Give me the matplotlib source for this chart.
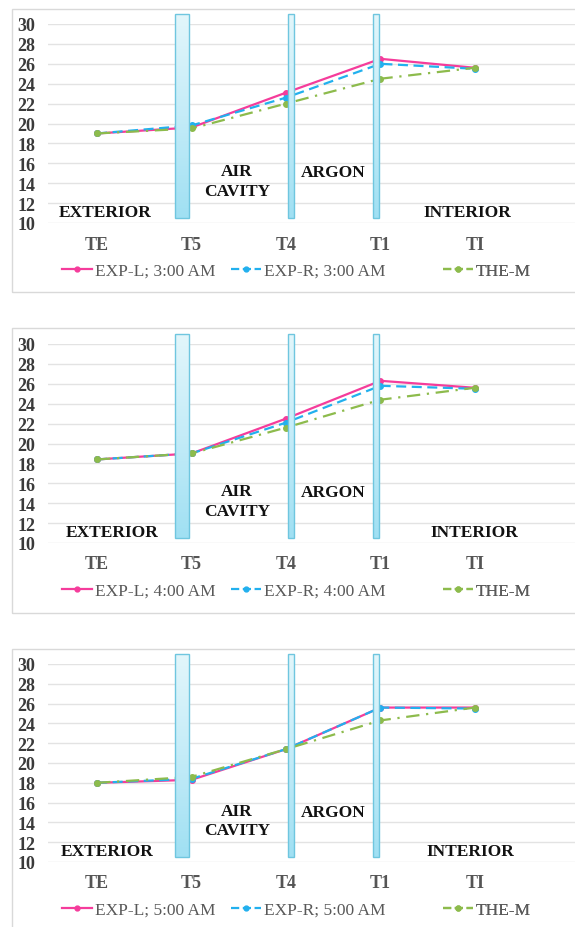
import numpy as np
import matplotlib
matplotlib.use('Agg')
import matplotlib.pyplot as plt
from matplotlib.patches import Rectangle
from matplotlib.colors import LinearSegmentedColormap
from matplotlib.lines import Line2D

plt.rcParams['font.family'] = ['Liberation Serif', 'DejaVu Serif']

# data
categories = ['TE', 'T5', 'T4', 'T1', 'TI']
times = ['3:00 AM', '4:00 AM', '5:00 AM']
exp_l = [[19.0, 19.6, 23.1, 26.5, 25.6],
         [18.4, 19.0, 22.5, 26.3, 25.6],
         [18.0, 18.3, 21.4, 25.6, 25.6]]
exp_r = [[19.0, 19.8, 22.6, 26.0, 25.5],
         [18.4, 19.0, 22.1, 25.8, 25.5],
         [18.0, 18.4, 21.4, 25.6, 25.5]]
the_m = [[19.0, 19.5, 22.0, 24.5, 25.6],
         [18.4, 19.0, 21.6, 24.4, 25.6],
         [18.0, 18.6, 21.4, 24.3, 25.6]]
yticks = np.arange(10, 31, 2)

W, H = 575, 928
fig = plt.figure(figsize=(W/100, H/100), dpi=100)

pink = '#f53c9b'
blue = '#22b0ee'
green = '#8dbb4c'
cmap = LinearSegmentedColormap.from_list('glass', ['#a0e0f3', '#c4ecf8', '#e2f6fb'])
grad = np.linspace(0, 1, 100).reshape(-1, 1)

# pixel layout per panel: (box top, box bottom, y of value 30, y of value 10)
panels = [(10, 293, 25, 224), (329, 614, 345, 544), (650, 940, 665, 863)]
ax_left = 48
xlo, xhi = -0.52, 5.06
ext_x = [0.08, 0.16, 0.11]
int_x = [3.92, 4.0, 3.95]

for i, (btop, bbot, ytop, ybot) in enumerate(panels):
    fig.patches.append(Rectangle((12/W, 1 - bbot/H), 1, (bbot - btop)/H,
                                 transform=fig.transFigure, fill=False,
                                 edgecolor='#d9d9d9', lw=1))
    ax = fig.add_axes([ax_left/W, 1 - ybot/H, (W - ax_left)/W, (ybot - ytop)/H])
    x = np.arange(len(categories))
    l1, = ax.plot(x, exp_l[i], color=pink, lw=1.6, marker='o', ms=4, zorder=3)
    l2, = ax.plot(x, exp_r[i], color=blue, lw=1.6, ls=(0, (4.5, 2.5)), marker='o', ms=4, zorder=3)
    l3, = ax.plot(x, the_m[i], color=green, lw=1.6, ls=(0, (6, 3, 1, 3)), marker='o', ms=4, zorder=3)

    # glass panes
    for (p0, p1) in [(0.82, 0.97), (2.02, 2.085), (2.926, 2.98)]:
        ax.imshow(grad, extent=(p0, p1, 10.5, 31.0), origin='lower', cmap=cmap,
                  aspect='auto', zorder=5, clip_on=False, interpolation='bilinear')
        ax.add_patch(Rectangle((p0, 10.5), p1 - p0, 20.5, fill=False,
                               edgecolor='#6fc6df', lw=1, zorder=6, clip_on=False))

    ax.set_xlim(xlo, xhi)
    ax.set_ylim(10, 30)
    ax.set_aspect('auto')
    ax.set_yticks(yticks)
    ax.set_yticklabels([str(v) for v in yticks], fontsize=13, fontweight='bold', color='#3a3a3a')
    ax.set_xticks(x)
    ax.set_xticklabels(categories, fontsize=13, fontweight='bold', color='#555555')
    ax.tick_params(length=0, axis='y', pad=9)
    ax.tick_params(length=0, axis='x', pad=9)
    ax.grid(axis='y', color='#e3e3e3', lw=1)
    ax.set_axisbelow(True)
    for s in ax.spines.values():
        s.set_visible(False)

    tk = dict(fontsize=12.5, fontweight='bold', color='#111111', ha='center',
              va='center', zorder=7)
    ax.text(ext_x[i], 11.1, 'EXTERIOR', **tk)
    ax.text(1.48, 15.2, 'AIR', **tk)
    ax.text(1.48, 13.2, 'CAVITY', **tk)
    ax.text(2.5, 15.1, 'ARGON', **tk)
    ax.text(int_x[i], 11.1, 'INTERIOR', **tk)

    # legend entries placed like the original
    labels = ['EXP-L; ' + times[i], 'EXP-R; ' + times[i], 'THE-M']
    handles = [l1, l2, l3]
    starts = [62, 231, 443]
    leg_y = -48 / (ybot - ytop)
    for h, lab, sx in zip(handles, labels, starts):
        hh = Line2D([], [], color=h.get_color(), ls=h.get_linestyle(), lw=1.6,
                    marker='o', ms=3.5)
        lg = ax.legend([hh], [lab], loc='center left',
                       bbox_to_anchor=((sx - ax_left) / (W - ax_left), leg_y),
                       frameon=False, fontsize=12.5, handlelength=1.7,
                       handletextpad=0.2, borderpad=0, borderaxespad=0,
                       labelcolor='#595959')
        ax.add_artist(lg)

fig.savefig('out.png', dpi=100)
